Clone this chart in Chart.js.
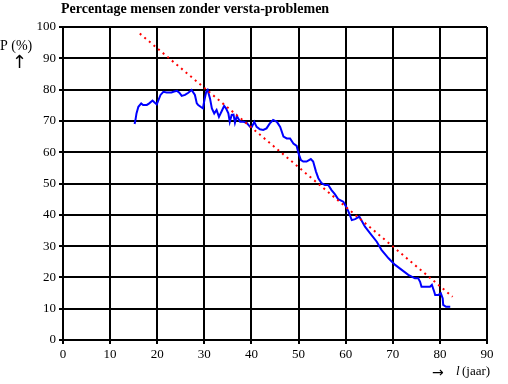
<!DOCTYPE html>
<html>
<head>
<meta charset="utf-8">
<script src="https://cdn.jsdelivr.net/npm/chart.js@4"></script>
<style>
  body { margin: 0; background: #fff; }
  canvas { display: block; }
</style>
</head>
<body>
<canvas id="myChart" width="508" height="384"></canvas>
<script>
const titleText = 'Percentage mensen zonder versta-problemen';
const xTicks = [0, 10, 20, 30, 40, 50, 60, 70, 80, 90];
const yTicks = [0, 10, 20, 30, 40, 50, 60, 70, 80, 90, 100];

// leeftijd (jaar) en percentage
const ages = [15.2, 15.4, 15.6, 16.0, 16.6, 17.0, 17.8, 18.3, 19.0, 19.5, 19.9, 20.7, 21.3, 22.0, 23.0, 23.6, 24.2, 24.7,
  25.2, 25.9, 26.6, 27.3, 28.0, 28.4, 28.7, 29.2, 29.7, 30.0, 30.4, 30.7, 31.2, 31.6, 32.1, 32.6, 33.1, 33.8, 34.2, 34.6,
  35.1, 35.4, 35.8, 36.2, 36.5, 36.9, 37.2, 37.6, 38.3, 39.0, 39.7, 40.1, 40.6, 41.1, 41.8, 42.5, 43.2, 43.9, 44.6, 45.4,
  46.1, 46.8, 47.5, 48.2, 48.9, 49.6, 50.0, 50.5, 51.0, 51.7, 52.6, 53.1, 53.7, 54.2, 54.9, 55.6, 56.3, 57.0, 57.7, 58.4,
  59.5, 60.1, 60.6, 61.3, 62.0, 62.9, 63.4, 64.1, 65.2, 66.6, 67.6, 69.1, 70.5, 71.9, 73.3, 74.7, 75.4, 75.8, 76.1, 76.8,
  77.9, 78.3, 78.8, 79.0, 79.7, 80.2, 80.6, 80.7, 81.3, 82.2];
const percentages = [69.0, 70.5, 72.4, 74.5, 75.6, 75.1, 75.1, 75.6, 76.5, 75.8, 75.3, 78.3, 79.3, 79.1, 79.1, 79.4, 79.6, 79.0,
  78.0, 78.3, 79.0, 79.9, 78.3, 75.6, 75.1, 74.5, 74.0, 76.5, 79.3, 79.9, 77.2, 74.0, 72.4, 73.5, 71.3, 73.5, 74.8, 74.0,
  72.4, 69.7, 71.9, 72.0, 69.4, 71.6, 70.8, 69.7, 69.7, 69.4, 68.1, 68.1, 69.7, 68.1, 67.3, 67.1, 67.6, 69.2, 70.3, 69.7,
  68.1, 65.0, 64.4, 64.4, 62.8, 62.0, 59.6, 57.5, 57.0, 57.0, 57.8, 57.0, 53.8, 51.7, 50.1, 49.5, 49.5, 47.9, 46.6, 45.0,
  44.2, 42.6, 41.0, 38.3, 38.6, 39.4, 38.1, 36.2, 34.1, 31.4, 28.8, 26.1, 24.0, 22.4, 20.8, 19.7, 19.7, 18.6, 17.0, 17.0,
  17.0, 17.6, 15.4, 14.4, 14.4, 14.9, 13.3, 11.2, 10.6, 10.6];

// trendlijn (begin- en eindpunt)
const trendAges = [16.3, 82.7];
const trendValues = [97.9, 13.8];

const serif = '"Liberation Serif", "Times New Roman", serif';
const arrowFont = '"DejaVu Sans", sans-serif';

const extraText = {
  id: 'extraText',
  afterDraw(chart) {
    const ctx = chart.ctx;
    ctx.save();
    ctx.fillStyle = '#000';
    ctx.textBaseline = 'alphabetic';
    ctx.font = 'bold 14px ' + serif;
    ctx.fillText(titleText, 61, 13);
    ctx.font = '14px ' + serif;
    ctx.fillText('P (%)', 0, 50);
    ctx.font = '18px ' + arrowFont;
    ctx.fillText('\u2191', 12, 68);
    ctx.font = '14px ' + arrowFont;
    ctx.fillText('\u2192', 432, 377);
    ctx.font = 'italic 13px ' + serif;
    ctx.fillText('l', 456, 375);
    ctx.font = '13px ' + serif;
    ctx.fillText('(jaar)', 462, 375);
    ctx.restore();
  }
};

const grafico = document.getElementById('myChart');

const myChart = new Chart(grafico, {
  type: 'line',
  data: {
    datasets: [{
      label: 'trend',
      data: trendAges.map((a, i) => ({ x: a, y: trendValues[i] })),
      borderColor: '#ff0000',
      borderWidth: 2,
      borderDash: [2, 4],
      pointRadius: 0,
      fill: false,
      order: 0
    }, {
      label: 'P (%)',
      data: ages.map((a, i) => ({ x: a, y: percentages[i] })),
      borderColor: '#0000ff',
      borderWidth: 2,
      pointRadius: 0,
      tension: 0,
      fill: false,
      order: 1
    }]
  },
  options: {
    responsive: false,
    animation: false,
    layout: { padding: { left: 0, top: 27, right: 21, bottom: 0 } },
    plugins: {
      legend: { display: false },
      tooltip: { enabled: false },
      title: { display: false }
    },
    scales: {
      x: {
        type: 'linear',
        min: 0,
        max: 90,
        afterBuildTicks: (scale) => { scale.ticks = xTicks.map(v => ({ value: v })); },
        afterFit: (scale) => { scale.height = 44; },
        grid: { color: '#000', lineWidth: 2, tickLength: 4, drawTicks: true },
        border: { display: true, color: '#000', width: 2 },
        ticks: { color: '#000', font: { family: serif, size: 13 }, padding: 3, maxRotation: 0 }
      },
      y: {
        min: 0,
        max: 100,
        afterBuildTicks: (scale) => { scale.ticks = yTicks.map(v => ({ value: v })); },
        afterFit: (scale) => { scale.width = 63; },
        grid: { color: '#000', lineWidth: 2, tickLength: 4, drawTicks: true },
        border: { display: true, color: '#000', width: 2 },
        ticks: { color: '#000', font: { family: serif, size: 13 }, padding: 3 }
      }
    }
  },
  plugins: [extraText]
});
</script>
</body>
</html>
